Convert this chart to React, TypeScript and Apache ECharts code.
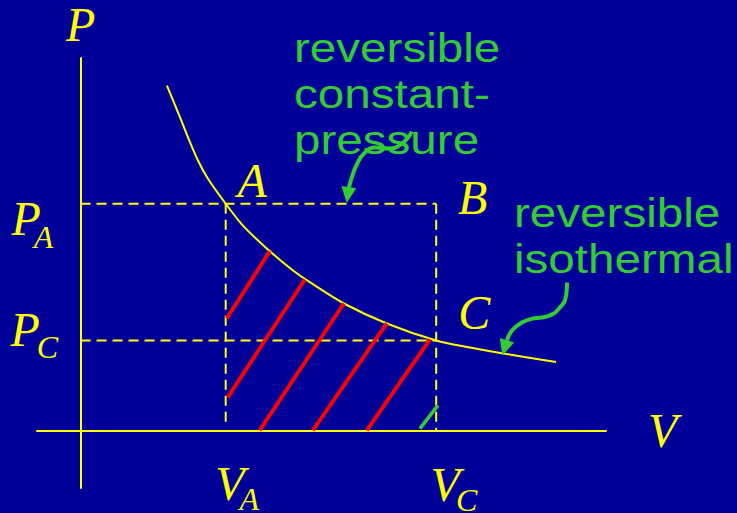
import React, { useEffect, useRef } from "react";
import * as echarts from "echarts";

// ---- values (V in units of V_A, P in units of P_C) ----
const V_A = 1.0;
const V_C = 2.45;
const P_A = 2.52;
const P_C = 1.0;

// reversible isotherm
const isothermV = [0.595, 0.671, 0.74, 0.809, 0.878, 1.0, 1.108, 1.223, 1.338, 1.464, 1.579, 1.814, 2.11, 2.45, 2.683, 2.91, 3.276];
const isothermP = [3.833, 3.537, 3.259, 3.0, 2.797, 2.52, 2.297, 2.111, 1.944, 1.778, 1.648, 1.411, 1.189, 1.0, 0.922, 0.856, 0.761];

// red hatching (work area), each segment from start to end
const hatchStartV = [1.007, 1.014, 1.234, 1.6, 1.972];
const hatchStartP = [1.244, 0.367, 0, 0, 0];
const hatchEndV = [1.303, 1.545, 1.814, 2.11, 2.407];
const hatchEndP = [1.99, 1.678, 1.411, 1.189, 1.011];

// small green hatch
const greenTickV = [2.338, 2.462];
const greenTickP = [0.02, 0.278];

// curved annotation arrows
const arrow1V = [2.283, 2.214, 2.124, 2.028, 1.959, 1.903, 1.862, 1.848];
const arrow1P = [3.322, 3.189, 3.133, 3.144, 3.089, 2.956, 2.778, 2.689];
const arrow2V = [3.352, 3.345, 3.303, 3.214, 3.117, 3.041, 2.972, 2.938];
const arrow2P = [1.644, 1.5, 1.367, 1.267, 1.244, 1.2, 1.111, 1.0];
const arrowHeadV = [1.841, 2.922];
const arrowHeadP = [2.617, 0.917];
const arrowHeadAngle = [172, 163];

// state points
const pointText = ["A", "B", "C"];
const pointAnchorV = [V_A, V_C, V_C];
const pointAnchorP = [P_A, P_A, P_C];

// subscripted axis values
const valueMain = ["P", "P", "V", "V"];
const valueSub = ["A", "C", "A", "C"];
const valueAnchorV = [0, 0, V_A, V_C];
const valueAnchorP = [P_A, P_C, 0, 0];

const axisNameV = "V";
const axisNameP = "P";
const noteTexts = ["reversible\nconstant-\npressure", "reversible\nisothermal"];

// ---- styling / layout ----
const BG = "#000099";
const YEL = "#FFFF00";
const RED = "#FF0000";
const GRN = "#33CC33";
const SERIF = '"Liberation Serif", "Times New Roman", serif';
const SANS = '"Liberation Sans", Arial, sans-serif';

const pointOffset: number[][] = [[26.5, -23], [36.5, -6.5], [38, -28]];
const valueOffset: number[][] = [[-69, 14.3], [-70, -11], [-10.4, 53.3], [-5.6, 54]];
const subPadTop = [37, 36, 30, 32];
const subPadLeft = [-7, -3, -5, -4];

const zip = (a: number[], b: number[]) => a.map((v, i) => [v, b[i]]);

const letterFont = {
  fontFamily: SERIF,
  fontStyle: "italic" as const,
  color: YEL,
  opacity: 1,
  textBorderWidth: 0,
  textShadowBlur: 0,
};

export default function App() {
  const ref = useRef<HTMLDivElement>(null);

  useEffect(() => {
    if (!ref.current) return;
    const chart = echarts.init(ref.current, undefined, { renderer: "svg" });

    const dashed = (pts: number[][]) => ({
      type: "line",
      data: pts,
      symbol: "none",
      silent: true,
      z: 2,
      lineStyle: { color: YEL, width: 2, type: [10, 6] },
    });

    const series: any[] = [
      dashed([[0, P_A], [V_C, P_A]]),
      dashed([[0, P_C], [V_C, P_C]]),
      dashed([[V_A, P_A], [V_A, 0.03]]),
      dashed([[V_C, P_A], [V_C, 0]]),
      {
        type: "line",
        data: zip(isothermV, isothermP),
        smooth: 0.3,
        symbol: "none",
        z: 3,
        lineStyle: { color: YEL, width: 2 },
      },
      ...hatchStartV.map((_, i) => ({
        type: "line",
        data: [
          [hatchStartV[i], hatchStartP[i]],
          [hatchEndV[i], hatchEndP[i]],
        ],
        symbol: "none",
        z: 4,
        lineStyle: { color: RED, width: 4, cap: "butt" },
      })),
      {
        type: "line",
        data: zip(greenTickV, greenTickP),
        symbol: "none",
        z: 4,
        lineStyle: { color: GRN, width: 3.5, cap: "butt" },
      },
      {
        type: "line",
        data: zip(arrow1V, arrow1P),
        smooth: 0.5,
        symbol: "none",
        z: 5,
        lineStyle: { color: GRN, width: 4 },
      },
      {
        type: "line",
        data: zip(arrow2V, arrow2P),
        smooth: 0.5,
        symbol: "none",
        z: 5,
        lineStyle: { color: GRN, width: 4 },
      },
      {
        type: "scatter",
        z: 6,
        clip: false,
        symbol: "triangle",
        symbolSize: [15, 16],
        itemStyle: { color: GRN, opacity: 1 },
        data: arrowHeadV.map((v, i) => ({
          value: [v, arrowHeadP[i]],
          symbolRotate: arrowHeadAngle[i],
        })),
      },
      {
        type: "scatter",
        z: 7,
        clip: false,
        symbolSize: 0,
        itemStyle: { opacity: 1 },
        data: pointText.map((t, i) => ({
          value: [pointAnchorV[i], pointAnchorP[i]],
          label: {
            show: true,
            position: "inside",
            formatter: t,
            fontSize: 48,
            ...letterFont,
            offset: pointOffset[i],
          },
        })),
      },
      {
        type: "scatter",
        z: 7,
        clip: false,
        symbolSize: 0,
        itemStyle: { opacity: 1 },
        data: valueMain.map((t, i) => ({
          value: [valueAnchorV[i], valueAnchorP[i]],
          label: {
            show: true,
            position: "inside",
            align: "left",
            verticalAlign: "middle",
            formatter: `{m|${t}}{s|${valueSub[i]}}`,
            ...letterFont,
            offset: valueOffset[i],
            rich: {
              m: { ...letterFont, fontSize: 48, lineHeight: 48, verticalAlign: "middle" },
              s: {
                ...letterFont,
                fontSize: 32,
                lineHeight: 32,
                verticalAlign: "middle",
                padding: [subPadTop[i], 0, 0, subPadLeft[i]],
              },
            },
          },
        })),
      },
    ];

    const axisCommon = {
      type: "value",
      axisLine: { show: true, onZero: true, lineStyle: { color: YEL, width: 2 } },
      axisTick: { show: false },
      axisLabel: { show: false },
      splitLine: { show: false },
      nameLocation: "end",
    };

    const noteStyle = {
      fontFamily: SANS,
      fontSize: 40,
      lineHeight: 46,
      fill: GRN,
    };

    chart.setOption({
      animation: false,
      backgroundColor: BG,
      grid: { left: 37, right: 131, top: 57, bottom: 25, containLabel: false },
      xAxis: {
        ...axisCommon,
        min: -0.3,
        max: 3.62,
        name: axisNameV,
        nameGap: 42,
        nameTextStyle: {
          ...letterFont,
          fontSize: 48,
          padding: [28, 0, 0, 0],
        },
      },
      yAxis: {
        ...axisCommon,
        min: -0.64,
        max: 4.14,
        name: axisNameP,
        nameGap: 10,
        nameTextStyle: {
          ...letterFont,
          fontSize: 48,
        },
      },
      graphic: [
        {
          type: "text",
          x: 294,
          y: 25,
          scaleX: 1.19,
          z: 10,
          style: { ...noteStyle, text: noteTexts[0] },
        },
        {
          type: "text",
          x: 514,
          y: 190,
          scaleX: 1.19,
          z: 10,
          style: { ...noteStyle, text: noteTexts[1] },
        },
      ],
      series,
    });

    return () => chart.dispose();
  }, []);

  return (
    <div
      ref={ref}
      style={{
        position: "fixed",
        left: 0,
        top: 0,
        width: 737,
        height: 513,
        background: BG,
      }}
    />
  );
}
